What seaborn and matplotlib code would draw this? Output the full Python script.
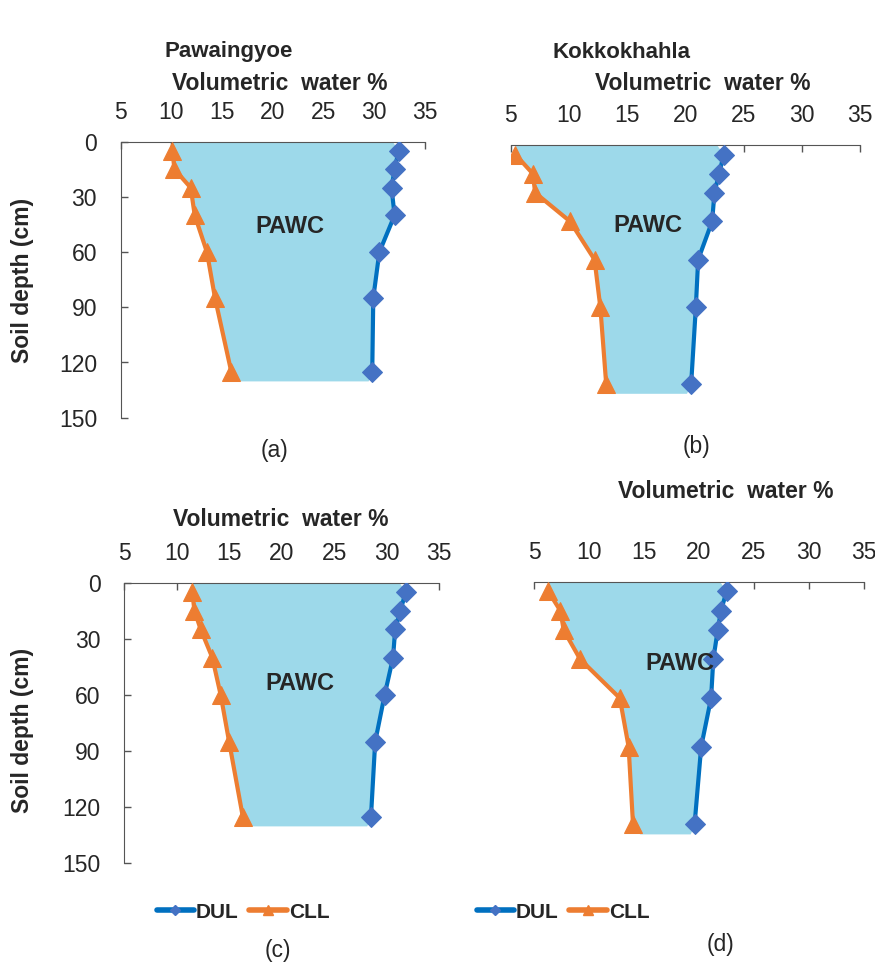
import numpy as np
import pandas as pd
import seaborn as sns
import matplotlib.pyplot as plt
from matplotlib.lines import Line2D

# layer mid-depths (cm)
depth = [5, 15, 25, 40, 60, 85, 125]
fill_bottom = 130

# Volumetric water %
dul_a = [32.4, 32.0, 31.7, 32.0, 30.5, 29.9, 29.8]
cll_a = [10.1, 10.3, 11.9, 12.3, 13.5, 14.3, 15.9]
dul_b = [23.3, 22.9, 22.5, 22.3, 21.1, 20.9, 20.5]
cll_b = [5.4, 6.9, 7.1, 10.1, 12.2, 12.7, 13.2]
dul_c = [31.8, 31.3, 30.8, 30.6, 29.8, 28.9, 28.5]
cll_c = [11.5, 11.7, 12.3, 13.4, 14.2, 15.0, 16.3]
dul_d = [22.5, 22.0, 21.7, 21.3, 21.1, 20.2, 19.6]
cll_d = [6.3, 7.4, 7.7, 9.2, 12.8, 13.6, 14.0]

x_ticks = [5, 10, 15, 20, 25, 30, 35]
y_ticks = [0, 30, 60, 90, 120, 150]

DUL_LINE = '#0070C0'
DUL_MARK = '#4472C4'
CLL_COL = '#ED7D31'
FILL_COL = '#9DD9EA'

sns.set_style('white')
plt.rcParams['font.family'] = ['Liberation Sans', 'DejaVu Sans']

W, H = 875, 969
fig = plt.figure(figsize=(W / 100, H / 100), dpi=100)


def px_axes(left, right, top, bottom):
    return fig.add_axes([left / W, 1 - bottom / H, (right - left) / W, (bottom - top) / H])


def panel(ax, dul, cll, show_y, pawc_xy):
    df = pd.DataFrame({'depth': depth, 'DUL': dul, 'CLL': cll})
    d_ext = [0] + depth + [fill_bottom]
    ax.fill_betweenx(d_ext, [cll[0]] + cll + [cll[-1] + 0.6], [dul[0] - 0.6] + dul + [dul[-1] - 0.4],
                     color=FILL_COL, lw=0, zorder=1)
    sns.lineplot(data=df, x='DUL', y='depth', orient='y', sort=False, ax=ax, color=DUL_LINE,
                 lw=3.0, marker='D', markersize=10.5, markerfacecolor=DUL_MARK,
                 markeredgecolor=DUL_MARK, zorder=3)
    sns.lineplot(data=df, x='CLL', y='depth', orient='y', sort=False, ax=ax, color=CLL_COL,
                 lw=3.0, marker='^', markersize=13.5, markerfacecolor=CLL_COL,
                 markeredgecolor=CLL_COL, zorder=3)
    ax.set_xlim(5, 35)
    ax.set_ylim(150, 0)
    ax.set_xticks(x_ticks)
    ax.set_yticks(y_ticks)
    ax.xaxis.tick_top()
    ax.tick_params(axis='x', length=5, width=1, color='#555555', labelsize=16.5, pad=13,
                   top=True, bottom=False, direction='in')
    ax.tick_params(axis='y', length=5, width=1, color='#555555', labelsize=16.5, pad=17,
                   left=show_y, direction='in')
    for s in ['right', 'bottom']:
        ax.spines[s].set_visible(False)
    ax.spines['top'].set_color('#555555')
    ax.spines['left'].set_color('#555555')
    if not show_y:
        ax.spines['left'].set_visible(False)
        ax.set_yticklabels([])
    ax.set_xlabel('')
    ax.set_ylabel('')
    ax.patch.set_alpha(0)
    ax.text(pawc_xy[0], pawc_xy[1], 'PAWC', fontsize=17, fontweight='bold',
            ha='center', va='center', zorder=4)


ax_a = px_axes(120.7, 425, 141.7, 417.7)
panel(ax_a, dul_a, cll_a, True, (21.7, 46))
ax_b = px_axes(510.7, 860, 145, 431.5)
panel(ax_b, dul_b, cll_b, False, (16.8, 42))
ax_c = px_axes(124, 439.3, 582.7, 863.3)
panel(ax_c, dul_c, cll_c, True, (21.75, 54))
ax_d = px_axes(534, 864, 581.7, 872.7)
panel(ax_d, dul_d, cll_d, False, (18.3, 42))


def ftext(x, y, s, **kw):
    fig.text(x / W, 1 - y / H, s, ha='center', va='center', **kw)


ftext(229, 52, 'Pawaingyoe', fontsize=16, fontweight='bold')
ftext(280, 84, 'Volumetric  water %', fontsize=16.5, fontweight='bold')
ftext(622, 52, 'Kokkokhahla', fontsize=16, fontweight='bold')
ftext(703, 84, 'Volumetric  water %', fontsize=16.5, fontweight='bold')
ftext(281, 520, 'Volumetric  water %', fontsize=16.5, fontweight='bold')
ftext(726, 492, 'Volumetric  water %', fontsize=16.5, fontweight='bold')
ftext(23, 280, 'Soil depth (cm)', fontsize=16.5, fontweight='bold', rotation=90)
ftext(23, 730, 'Soil depth (cm)', fontsize=16.5, fontweight='bold', rotation=90)
ftext(275, 450, '(a)', fontsize=16.5)
ftext(697, 447, '(b)', fontsize=16.5)
ftext(278, 950, '(c)', fontsize=16.5)
ftext(720, 945, '(d)', fontsize=16.5)

handles = [Line2D([], [], color=DUL_LINE, lw=4, marker='D', markersize=5,
                  markerfacecolor=DUL_MARK, markeredgecolor=DUL_MARK),
           Line2D([], [], color=CLL_COL, lw=4, marker='^', markersize=7,
                  markerfacecolor=CLL_COL, markeredgecolor=CLL_COL)]
for cx in (243, 563):
    fig.legend(handles, ['DUL', 'CLL'], loc='center', bbox_to_anchor=(cx / W, 1 - 912 / H),
               ncol=2, frameon=False, prop={'size': 15, 'weight': 'bold'},
               handlelength=1.8, handletextpad=0.1, columnspacing=0.5)

fig.savefig('out.png', dpi=100)
